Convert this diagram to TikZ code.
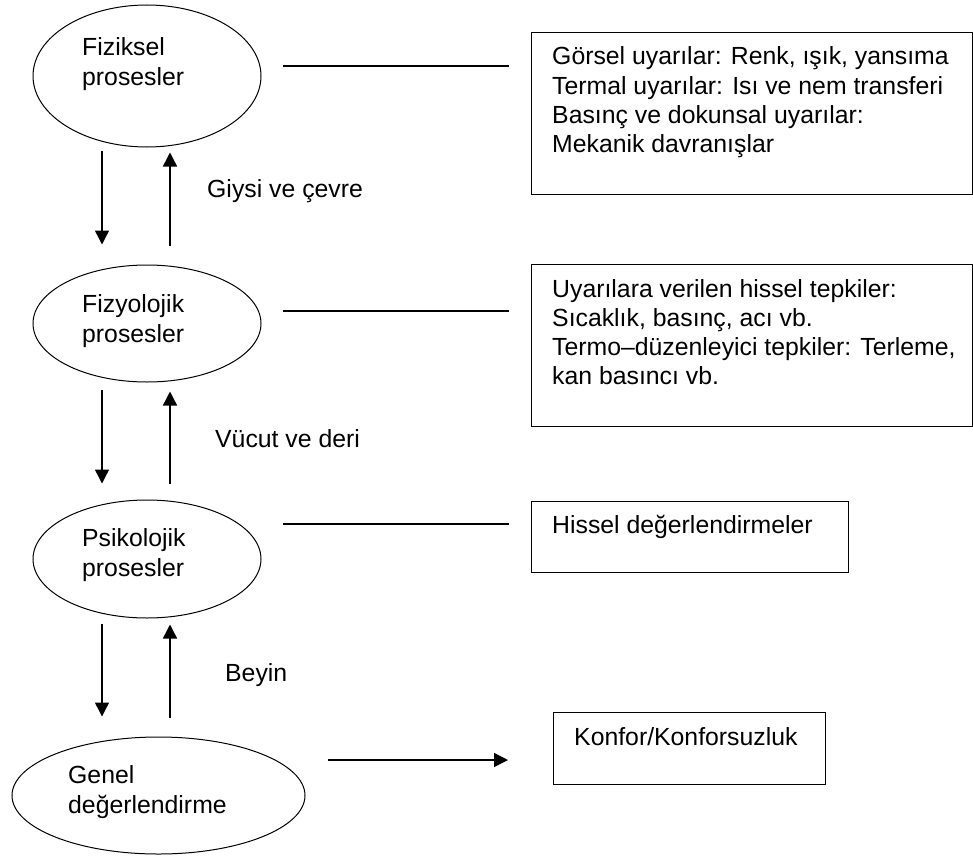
\documentclass[tikz,border=0pt]{standalone}
\usepackage{fontspec}
\setmainfont{Liberation Sans}
\usetikzlibrary{shapes.geometric,arrows.meta}
\newcommand{\tlines}[1]{\parbox[t]{460pt}{\raggedright #1}}
\begin{document}
\begin{tikzpicture}[x=1pt,y=-1pt,
  proc/.style={draw=black,line width=1pt,ellipse,inner sep=0pt},
  infobox/.style={draw=black,line width=1.4pt,rectangle,inner sep=0pt,anchor=north west},
  etxt/.style={anchor=base west,inner sep=0pt,font=\fontsize{24.8}{30}\selectfont},
  btxt/.style={anchor=base west,inner sep=0pt,font=\fontsize{24.8}{29.3}\selectfont},
  conn/.style={line width=1.4pt},
  arr/.style={line width=1.4pt,-{Triangle[length=14pt,width=14pt]}}]
\useasboundingbox (0,0) rectangle (973,856);
\fill[white] (0,0) rectangle (973,856);

% process ellipses
\node[proc,minimum width=228pt,minimum height=142pt] (e1) at (147,76) {};
\node[proc,minimum width=228pt,minimum height=117pt] (e2) at (147,323.5) {};
\node[proc,minimum width=228pt,minimum height=118pt] (e3) at (147,559) {};
\node[proc,minimum width=293pt,minimum height=117pt] (e4) at (158.5,795.5) {};

\node[etxt] (t1) at (82,56) {\tlines{Fiziksel\\prosesler}};
\node[etxt] (t2) at (82,312) {\tlines{Fizyolojik\\prosesler}};
\node[etxt] (t3) at (82,546) {\tlines{Psikolojik\\prosesler}};
\node[etxt] (t4) at (68,783) {\tlines{Genel\\değerlendirme}};

% info boxes
\node[infobox,minimum width=441pt,minimum height=162pt] (b1) at (531,32) {};
\node[infobox,minimum width=441pt,minimum height=162pt] (b2) at (531,264) {};
\node[infobox,minimum width=317pt,minimum height=71pt] (b3) at (531,501) {};
\node[infobox,minimum width=272pt,minimum height=72pt] (b4) at (553,712) {};

\node[btxt] (bt1) at (552,65) {\tlines{Görsel uyarılar: Renk, ışık, yansıma\\Termal uyarılar: Isı ve nem transferi\\Basınç ve dokunsal uyarılar:\\Mekanik davranışlar}};
\node[btxt] (bt2) at (552,297) {\tlines{Uyarılara verilen hissel tepkiler:\\Sıcaklık, basınç, acı vb.\\Termo–düzenleyici tepkiler: Terleme,\\kan basıncı vb.}};
\node[btxt] (bt3) at (552,533) {Hissel değerlendirmeler};
\node[btxt] (bt4) at (574,745) {Konfor/Konforsuzluk};

% side labels
\node[btxt] (g1) at (207,197) {Giysi ve çevre};
\node[btxt] (g2) at (215,447) {Vücut ve deri};
\node[btxt] (g3) at (225,681) {Beyin};

% vertical arrows
\draw[arr] ([xshift=-45pt,yshift=-3pt]e1.south) -- ([xshift=-45pt,yshift=20pt]e2.north);
\draw[arr] ([xshift=23pt,yshift=19pt]e2.north) -- ([xshift=23pt,yshift=-5pt]e1.south);
\draw[arr] ([xshift=-45pt,yshift=-7pt]e2.south) -- ([xshift=-45pt,yshift=16pt]e3.north);
\draw[arr] ([xshift=23pt,yshift=16pt]e3.north) -- ([xshift=23pt,yshift=-9pt]e2.south);
\draw[arr] ([xshift=-45pt,yshift=-5pt]e3.south) -- ([xshift=-56.5pt,yshift=20pt]e4.north);
\draw[arr] ([xshift=11.5pt,yshift=19pt]e4.north) -- ([xshift=23pt,yshift=-6pt]e3.south);

% horizontal connectors
\coordinate (l1a) at (283,66);  \coordinate (l1b) at (509,66);
\coordinate (l2a) at (283,311); \coordinate (l2b) at (509,311);
\coordinate (l3a) at (283,524); \coordinate (l3b) at (509,524);
\coordinate (l4a) at (328,760); \coordinate (l4b) at (508,760);
\draw[conn] (l1a) -- (l1b);
\draw[conn] (l2a) -- (l2b);
\draw[conn] (l3a) -- (l3b);
\draw[arr] (l4a) -- (l4b);
\end{tikzpicture}
\end{document}
